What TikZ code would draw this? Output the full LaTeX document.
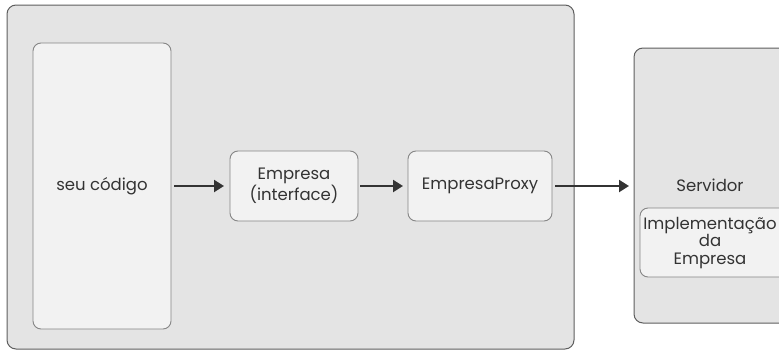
\documentclass[tikz,border=0pt]{standalone}
\usepackage{fontspec}
\setmainfont{Poppins}
\usetikzlibrary{arrows.meta}
\definecolor{outerfill}{HTML}{E4E4E4}
\definecolor{innerfill}{HTML}{F2F2F2}
\definecolor{edge}{HTML}{5E5E5E}
\definecolor{arrowcol}{HTML}{333333}
\begin{document}
\begin{tikzpicture}[x=1pt,y=-1pt,
  container/.style={draw=edge,fill=outerfill,line width=1pt,rounded corners=9pt},
  block/.style={draw=edge!75,fill=innerfill,line width=0.9pt,rounded corners=8pt},
  lbl/.style={font=\fontsize{16.5}{17.5}\selectfont,text=black!80,align=center,inner sep=0pt},
  flow/.style={draw=arrowcol,line width=2.2pt,-{Triangle[length=10pt,width=12pt]}}]
  \useasboundingbox (0,0) rectangle (779,351);
  \begin{scope}
    \clip (0,0) rectangle (779,351);
    % client side container
    \draw[container] (7,5) rectangle (574,349);
    % server container
    \draw[container] (634,48) rectangle (790,323);
    % blocks
    \draw[block] (33,43) rectangle (171,329);
    \node[lbl] (code) at (102,186) {seu código};
    \coordinate (codeE) at (174,186);
    \draw[block] (230,151) rectangle (358,221);
    \node[lbl] (iface) at (294,186) {Empresa\\(interface)};
    \coordinate (ifaceW) at (224,186);
    \coordinate (ifaceE) at (360,186);
    \draw[block] (408,151) rectangle (552,221);
    \node[lbl] (proxy) at (480,186) {EmpresaProxy};
    \coordinate (proxyW) at (403,186);
    \coordinate (proxyE) at (555,186);
    \node[lbl] (server) at (710,185) {Servidor};
    \coordinate (serverW) at (629,186);
    \draw[block] (640,208) rectangle (790,277);
    \node[lbl] (impl) at (710,243) {Implementação\\da\\Empresa};
    % connectors
    \draw[flow] (codeE) -- (ifaceW);
    \draw[flow] (ifaceE) -- (proxyW);
    \draw[flow] (proxyE) -- (serverW);
  \end{scope}
\end{tikzpicture}
\end{document}
